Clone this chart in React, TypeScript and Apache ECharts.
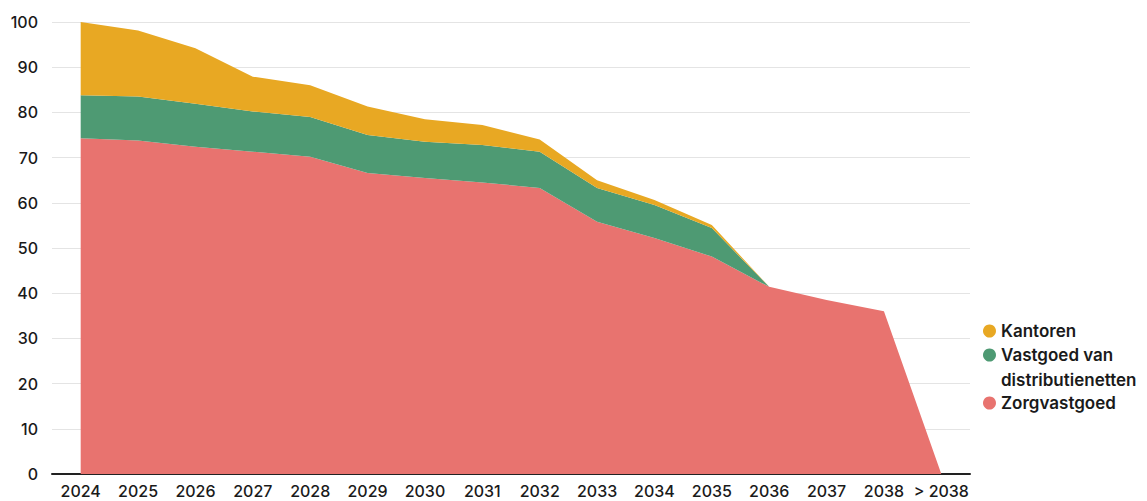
import React, { useEffect, useRef } from "react";
import * as echarts from "echarts";

const categories = ["2024", "2025", "2026", "2027", "2028", "2029", "2030", "2031", "2032", "2033", "2034", "2035", "2036", "2037", "2038", "> 2038"];
const zorgvastgoed = [74.3, 73.8, 72.4, 71.3, 70.2, 66.6, 65.5, 64.5, 63.3, 55.8, 52.2, 48.1, 41.4, 38.5, 36.0, 0];
const distributienetten = [9.5, 9.7, 9.5, 8.9, 8.8, 8.4, 8.0, 8.3, 8.0, 7.5, 7.3, 6.3, 0, 0, 0, 0];
const kantoren = [16.2, 14.6, 12.3, 7.7, 7.0, 6.3, 5.0, 4.4, 2.7, 1.7, 1.1, 0.7, 0, 0, 0, 0];
const yTicks = { min: 0, max: 100, interval: 10 };

const FONT = "Inter, 'Noto Sans', sans-serif";
const legendText = { fontFamily: FONT, fontSize: 17, fontWeight: 600, color: "#1a1a1a", lineHeight: 24 };

export default function App() {
  const ref = useRef<HTMLDivElement>(null);
  useEffect(() => {
    if (!ref.current) return;
    const chart = echarts.init(ref.current, null, { renderer: "svg" });
    const area = (name: string, data: number[], color: string) => ({
      name,
      type: "line",
      stack: "total",
      data,
      symbol: "none",
      lineStyle: { width: 0 },
      areaStyle: { color, opacity: 1 },
      itemStyle: { color },
    });
    const legendBase = {
      orient: "vertical",
      left: 983,
      padding: 0,
      itemWidth: 13,
      itemHeight: 13,
      itemGap: 0,
      icon: "circle",
      textStyle: legendText,
    };
    chart.setOption({
      animation: false,
      textStyle: { fontFamily: FONT },
      grid: { left: 52, right: 177, top: 22, bottom: 27 },
      legend: [
        {
          ...legendBase,
          top: 319,
          data: ["Kantoren", "Vastgoed van distributienetten"],
          formatter: (n: string) => (n === "Vastgoed van distributienetten" ? "Vastgoed van" : n),
        },
        { ...legendBase, top: 391, data: ["Zorgvastgoed"] },
      ],
      graphic: [
        {
          type: "text",
          left: 1001,
          top: 371,
          style: { text: "distributienetten", font: `600 17px ${FONT}`, fill: "#1a1a1a" },
        },
      ],
      xAxis: {
        type: "category",
        data: categories,
        boundaryGap: true,
        axisLine: { show: true, lineStyle: { color: "#222", width: 2 } },
        axisTick: { show: false },
        axisLabel: { interval: 0, color: "#1a1a1a", fontSize: 16, fontWeight: 500, margin: 9, fontFamily: FONT },
      },
      yAxis: {
        type: "value",
        min: yTicks.min,
        max: yTicks.max,
        interval: yTicks.interval,
        axisLine: { show: false },
        axisTick: { show: false },
        splitLine: { lineStyle: { color: "#e4e4e4", width: 1 } },
        axisLabel: { color: "#1a1a1a", fontSize: 16, fontWeight: 500, margin: 14, fontFamily: FONT },
      },
      series: [
        area("Zorgvastgoed", zorgvastgoed, "#e8736f"),
        area("Vastgoed van distributienetten", distributienetten, "#4e9a73"),
        area("Kantoren", kantoren, "#e8a823"),
      ],
    });
    return () => chart.dispose();
  }, []);
  return <div ref={ref} style={{ position: "absolute", left: 0, top: 0, width: 1147, height: 501 }} />;
}
